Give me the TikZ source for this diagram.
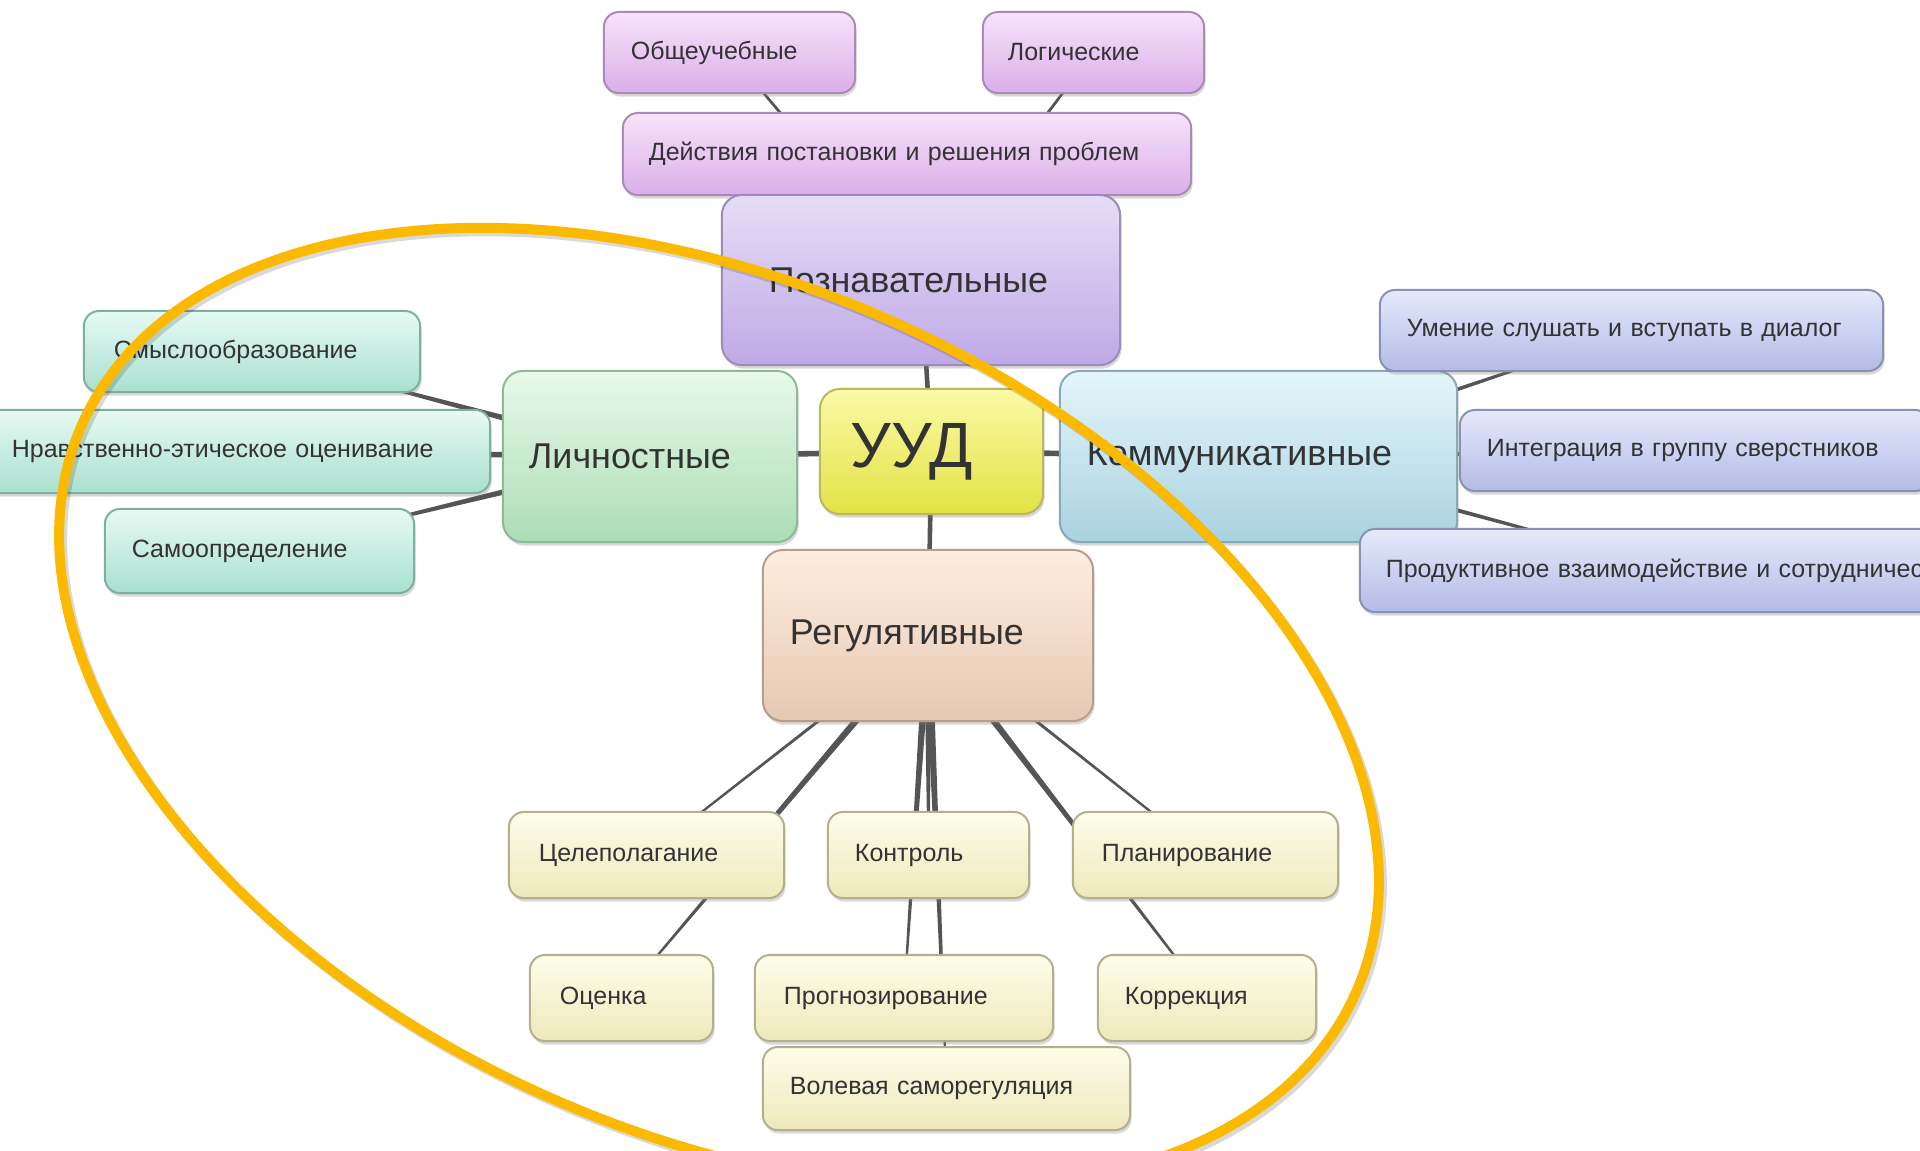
\documentclass[tikz,border=0pt]{standalone}
\usepackage{fontspec}
\setmainfont{Liberation Sans}
\usetikzlibrary{shadows,calc,backgrounds}
\definecolor{txt}{HTML}{333333}
\definecolor{linec}{HTML}{555555}
\definecolor{gold}{RGB}{251,186,0}
\definecolor{purT}{HTML}{F6E4F9}\definecolor{purB}{HTML}{DBAEEA}\definecolor{purD}{HTML}{A98BB5}
\definecolor{lavT}{HTML}{E6DDF7}\definecolor{lavB}{HTML}{BFA9E6}\definecolor{lavD}{HTML}{9C8DB8}
\definecolor{grnT}{HTML}{E8F9EA}\definecolor{grnB}{HTML}{ABDDB5}\definecolor{grnD}{HTML}{8EB89A}
\definecolor{tealT}{HTML}{E6FAF4}\definecolor{tealB}{HTML}{A9E0D0}\definecolor{tealD}{HTML}{80AE9F}
\definecolor{yelT}{HTML}{FAFAA8}\definecolor{yelB}{HTML}{E2E244}\definecolor{yelD}{HTML}{B8B860}
\definecolor{cyaT}{HTML}{E4F6FB}\definecolor{cyaB}{HTML}{A9D2E0}\definecolor{cyaD}{HTML}{8AA8B5}
\definecolor{bluT}{HTML}{E6E9FB}\definecolor{bluB}{HTML}{B3BBE6}\definecolor{bluD}{HTML}{8A91B2}
\definecolor{peaT}{HTML}{FDEEE0}\definecolor{peaB}{HTML}{E6C8B2}\definecolor{peaD}{HTML}{B89C8C}
\definecolor{crmT}{HTML}{FDFDEA}\definecolor{crmB}{HTML}{EEE9BA}\definecolor{crmD}{HTML}{B4AF8C}
\tikzset{
  bx/.style={rounded corners=0.15cm, line width=0.02cm, inner ysep=0pt, align=left,
    text=txt, font=\fontsize{7.1}{8.5}\selectfont,
    drop shadow={shadow xshift=0.015cm, shadow yshift=-0.035cm, opacity=0.3}},
  big/.style={bx, rounded corners=0.2cm, font=\fontsize{10.2}{12}\selectfont},
  purp/.style={top color=purT, bottom color=purB, draw=purD},
  lav/.style={top color=lavT, bottom color=lavB, draw=lavD},
  grn/.style={top color=grnT, bottom color=grnB, draw=grnD},
  teal/.style={top color=tealT, bottom color=tealB, draw=tealD},
  yel/.style={top color=yelT, bottom color=yelB, draw=yelD},
  cya/.style={top color=cyaT, bottom color=cyaB, draw=cyaD},
  blu/.style={top color=bluT, bottom color=bluB, draw=bluD},
  pea/.style={top color=peaT, bottom color=peaB, draw=peaD},
  crm/.style={top color=crmT, bottom color=crmB, draw=crmD},
  ell/.style={draw=gold, line width=0.1cm},
}
\newcommand{\taperline}[4]{\fill[linec] ($(#1)!#3!90:(#2)$) -- ($(#2)!#4!-90:(#1)$) -- ($(#2)!#4!90:(#1)$) -- ($(#1)!#3!-90:(#2)$) -- cycle;}
\begin{document}
\begin{tikzpicture}[x=0.01cm, y=-0.01cm]
\useasboundingbox (0,0) rectangle (1920,1150);
\clip (0,0) rectangle (1920,1150);
% top
\node[bx, purp, minimum height=0.81cm, inner xsep=0.27cm, text width=1.97cm] (obsh) at (729.5,52.5) {Общеучебные};
\node[bx, purp, minimum height=0.81cm, inner xsep=0.25cm, text width=1.71cm] (logi) at (1093.5,52.5) {Логические};
\node[bx, purp, minimum height=0.82cm, inner xsep=0.26cm, text width=5.16cm] (deys) at (907,154) {Действия постановки и решения проблем};
\node[big, lav, minimum height=1.70cm, inner xsep=0.47cm, text width=3.04cm] (pozn) at (921,280) {Познавательные};
% middle
\node[big, grn, minimum height=1.71cm, inner xsep=0.26cm, text width=2.42cm] (lich) at (650,456.5) {Личностные};
\node[big, yel, minimum height=1.25cm, inner xsep=0.31cm, text width=1.61cm, font=\fontsize{18.2}{20}\selectfont] (uud) at (931.5,451.5) {УУД};
\node[big, cya, minimum height=1.71cm, inner xsep=0.27cm, text width=3.43cm] (komm) at (1258.5,456.5) {Коммуникативные};
\node[big, pea, minimum height=1.71cm, inner xsep=0.27cm, text width=2.76cm] (regu) at (928,635.5) {Регулятивные};
% left
\node[bx, teal, minimum height=0.81cm, inner xsep=0.30cm, text width=2.76cm] (smysl) at (252,351.5) {Смыслообразование};
\node[bx, teal, minimum height=0.83cm, inner xsep=0.30cm, text width=4.48cm] (nrav) at (236,451.5) {Нравственно-этическое оценивание};
\node[bx, teal, minimum height=0.84cm, inner xsep=0.27cm, text width=2.55cm] (samo) at (259.5,551) {Самоопределение};
% right
\node[bx, blu, minimum height=0.81cm, inner xsep=0.27cm, text width=4.49cm] (umen) at (1631.5,330.5) {Умение слушать и вступать в диалог};
\node[bx, blu, minimum height=0.81cm, inner xsep=0.27cm, text width=4.16cm] (integ) at (1695,450.5) {Интеграция в группу сверстников};
\node[bx, blu, minimum height=0.83cm, inner xsep=0.26cm, text width=5.88cm] (prod) at (1680,570.5) {Продуктивное взаимодействие и сотрудничество};
% bottom
\node[bx, crm, minimum height=0.86cm, inner xsep=0.30cm, text width=2.15cm] (cel) at (646.5,855) {Целеполагание};
\node[bx, crm, minimum height=0.86cm, inner xsep=0.27cm, text width=1.47cm] (kont) at (928.5,855) {Контроль};
\node[bx, crm, minimum height=0.86cm, inner xsep=0.29cm, text width=2.07cm] (plan) at (1205.5,855) {Планирование};
\node[bx, crm, minimum height=0.86cm, inner xsep=0.30cm, text width=1.23cm] (ocen) at (621.5,998) {Оценка};
\node[bx, crm, minimum height=0.86cm, inner xsep=0.29cm, text width=2.40cm] (prog) at (904,998) {Прогнозирование};
\node[bx, crm, minimum height=0.86cm, inner xsep=0.27cm, text width=1.64cm] (korr) at (1207,998) {Коррекция};
\node[bx, crm, minimum height=0.83cm, inner xsep=0.27cm, text width=3.13cm] (vol) at (946.5,1088.5) {Волевая саморегуляция};
% connectors
\begin{pgfonlayer}{background}
\fill[white] (0,0) rectangle (1920,1150);
\taperline{uud}{pozn}{0.025cm}{0.02cm}
\taperline{uud}{lich}{0.03cm}{0.025cm}
\taperline{uud}{komm}{0.03cm}{0.025cm}
\taperline{uud}{regu}{0.025cm}{0.02cm}
\taperline{pozn}{obsh}{0.02cm}{0.012cm}
\taperline{pozn}{logi}{0.02cm}{0.012cm}
\taperline{lich}{smysl}{0.04cm}{0.005cm}
\taperline{lich}{nrav}{0.04cm}{0.005cm}
\taperline{lich}{samo}{0.04cm}{0.005cm}
\taperline{komm}{umen}{0.03cm}{0.008cm}
\taperline{komm}{integ}{0.03cm}{0.008cm}
\taperline{komm}{prod}{0.03cm}{0.008cm}
\taperline{regu}{cel}{0.018cm}{0.01cm}
\taperline{regu}{ocen}{0.04cm}{0.008cm}
\taperline{regu}{kont}{0.04cm}{0.01cm}
\taperline{regu}{prog}{0.04cm}{0.008cm}
\taperline{regu}{vol}{0.04cm}{0.008cm}
\taperline{regu}{plan}{0.018cm}{0.01cm}
\taperline{regu}{korr}{0.04cm}{0.008cm}
\end{pgfonlayer}
% highlight ellipse
\begin{scope}[shift={(722,712)}, rotate=-24.1]
\draw[black, opacity=0.15, line width=0.1cm] (0,0) ellipse [x radius=6.97cm, y radius=4.24cm];
\end{scope}
\begin{scope}[shift={(719,708.5)}, rotate=-24.1]
\draw[ell] (0,0) ellipse [x radius=6.97cm, y radius=4.24cm];
\end{scope}
\end{tikzpicture}
\end{document}
